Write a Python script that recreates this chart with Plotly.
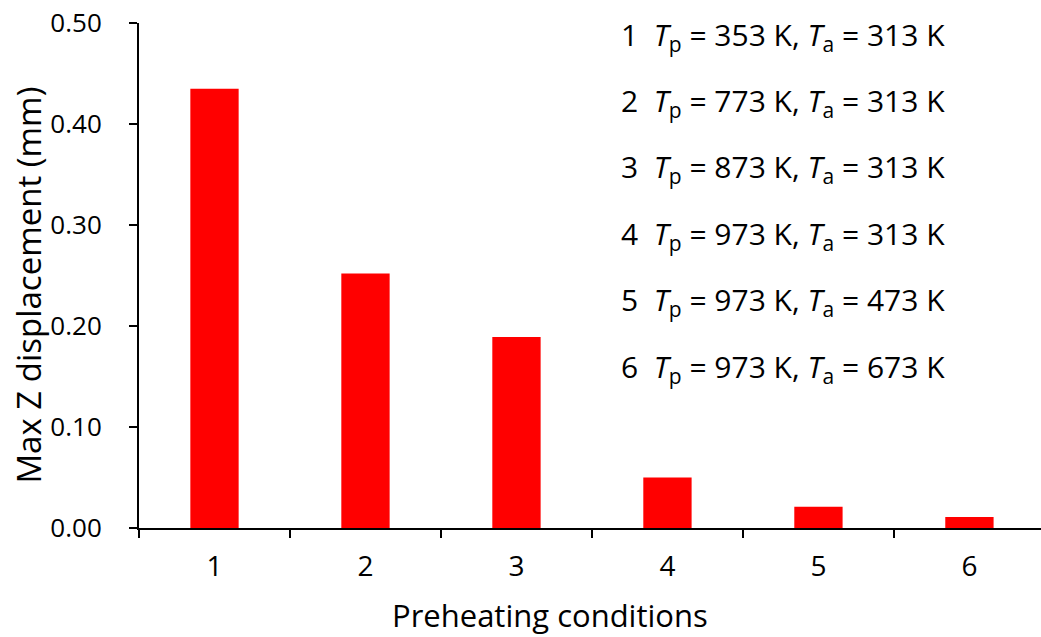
import plotly.graph_objects as go

categories = ["1", "2", "3", "4", "5", "6"]
max_z_disp = [0.435, 0.252, 0.189, 0.050, 0.021, 0.011]
tp_values = [353, 773, 873, 973, 973, 973]
ta_values = [313, 313, 313, 313, 473, 673]
y_ticks = [0.0, 0.1, 0.2, 0.3, 0.4, 0.5]

FONT = "Open Sans"

fig = go.Figure()
fig.add_trace(go.Bar(x=categories, y=max_z_disp, marker=dict(color="#ff0000", line=dict(width=0)),
                     showlegend=False))

for i, (c, tp, ta) in enumerate(zip(categories, tp_values, ta_values)):
    fig.add_annotation(
        x=0.532, xref="paper", xanchor="left",
        y=0.975 - i * 0.1315, yref="paper", yanchor="middle",
        text=f"{c}  <i>T</i><sub>p</sub> = {tp} K, <i>T</i><sub>a</sub> = {ta} K",
        showarrow=False, font=dict(family=FONT, size=30, color="#000000"),
    )

# axis titles
fig.add_annotation(
    x=0.4557, xref="paper", xanchor="center",
    y=0, yref="paper", yanchor="middle", yshift=-87,
    text="Preheating conditions", showarrow=False,
    font=dict(family=FONT, size=31, color="#000000"),
)
fig.add_annotation(
    x=0, xref="paper", xanchor="center", xshift=-110,
    y=0.48, yref="paper", yanchor="middle",
    text="Max Z displacement (mm)", textangle=-90, showarrow=False,
    font=dict(family=FONT, size=33, color="#000000"),
)

fig.update_layout(
    width=1041, height=637,
    margin=dict(l=139, r=0, t=23, b=109),
    plot_bgcolor="white", paper_bgcolor="white",
    bargap=0.68,
    font=dict(family=FONT, color="#000000"),
    xaxis=dict(
        type="category", range=[-0.5, 5.474],
        showline=True, linecolor="black", linewidth=2,
        ticks="outside", tickson="boundaries", ticklen=8, tickwidth=2, tickcolor="black",
        tickfont=dict(size=28), ticklabelstandoff=12,
        showgrid=False, zeroline=False,
    ),
    yaxis=dict(
        range=[0, 0.5], tickvals=y_ticks, tickformat=".2f",
        showline=True, linecolor="black", linewidth=2,
        ticks="outside", ticklen=8, tickwidth=2, tickcolor="black",
        tickfont=dict(size=26), ticklabelstandoff=22,
        showgrid=False, zeroline=False,
    ),
)

fig.write_html("out.html")
